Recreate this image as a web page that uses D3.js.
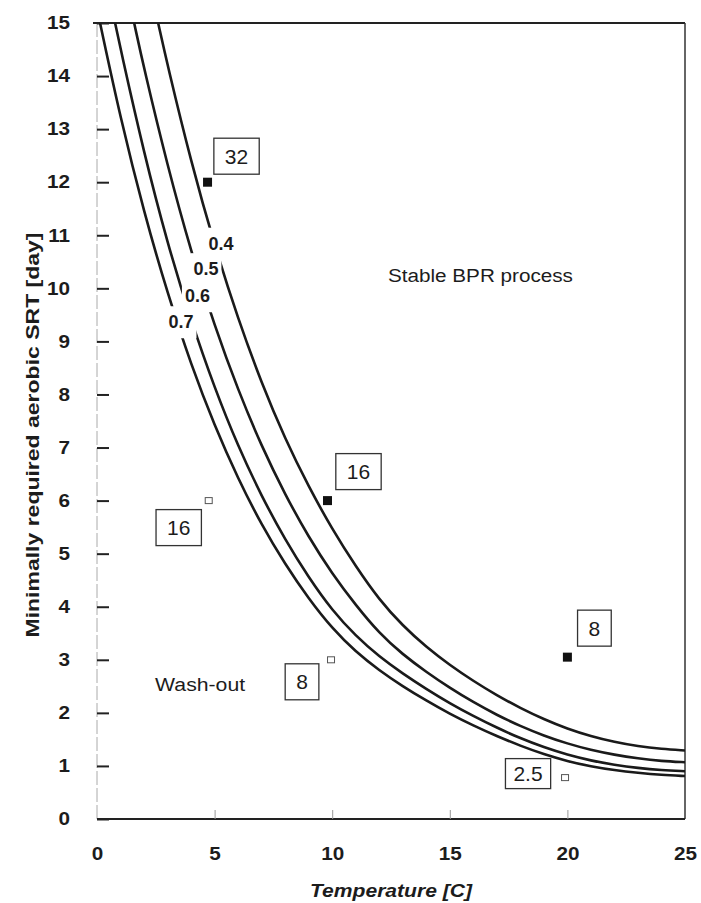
<!DOCTYPE html>
<html lang="en">
<head>
<meta charset="utf-8">
<title>Minimally required aerobic SRT vs temperature</title>
<script src="https://cdn.jsdelivr.net/npm/d3@7"></script>
<style>
body { margin: 0; background: #fff; }
svg text { font-family: "Liberation Sans", Arial, sans-serif; fill: #1c1c1c; }
.axis .domain { display: none; }
.yaxis .tick line { stroke: #222; stroke-width: 2; }
.xaxis .tick line { stroke: #999; stroke-width: 1; }
.axis text { font-size: 18px; font-weight: bold; }
</style>
</head>
<body>
<script>
// curve names (aerobic fraction) and the read-off points of each curve
var curveNames = ["0.4", "0.5", "0.6", "0.7"];

var temp04 = [2.6, 3, 4, 5, 6, 7, 8, 9, 10, 11, 12, 13, 14, 15, 16, 17, 18, 19, 20, 21, 22, 23, 24, 25];
var srt04 = [15, 14.2, 12.38, 10.8, 9.42, 8.21, 7.16, 6.26, 5.46, 4.76, 4.13, 3.64, 3.24, 2.9, 2.6, 2.33, 2.09, 1.88, 1.7, 1.56, 1.45, 1.37, 1.32, 1.29];

var temp05 = [1.58, 2, 3, 4, 5, 6, 7, 8, 9, 10, 11, 12, 13, 14, 15, 16, 17, 18, 19, 20, 21, 22, 23, 24, 25];
var srt05 = [15, 14.14, 12.3, 10.69, 9.29, 8.08, 7.02, 6.11, 5.31, 4.62, 4.03, 3.5, 3.1, 2.77, 2.47, 2.2, 1.96, 1.75, 1.57, 1.42, 1.3, 1.21, 1.14, 1.09, 1.07];

var temp06 = [0.77, 1, 2, 3, 4, 5, 6, 7, 8, 9, 10, 11, 12, 13, 14, 15, 16, 17, 18, 19, 20, 21, 22, 23, 24, 25];
var srt06 = [15, 14.51, 12.54, 10.84, 9.39, 8.12, 7.02, 6.08, 5.26, 4.55, 3.93, 3.45, 3.06, 2.74, 2.45, 2.18, 1.94, 1.72, 1.52, 1.35, 1.21, 1.1, 1.02, 0.96, 0.92, 0.9];

var temp07 = [0.13, 1, 2, 3, 4, 5, 6, 7, 8, 9, 10, 11, 12, 13, 14, 15, 16, 17, 18, 19, 20, 21, 22, 23, 24, 25];
var srt07 = [15, 13.2, 11.43, 9.9, 8.56, 7.41, 6.41, 5.54, 4.8, 4.15, 3.59, 3.15, 2.8, 2.5, 2.23, 1.98, 1.76, 1.56, 1.38, 1.22, 1.09, 0.99, 0.92, 0.87, 0.83, 0.81];

// where the curve name sits on the chart (temperature, SRT)
var nameTemp = [5.27, 4.63, 4.27, 3.57];
var nameSrt = [10.85, 10.37, 9.86, 9.37];

// measured points
var pointTemp = [4.7, 9.8, 20, 4.75, 9.95, 19.9];
var pointSrt = [12, 6, 3.05, 6, 3, 0.78];
var pointFilled = [true, true, true, false, false, false];
var pointLabels = ["32", "16", "8", "16", "8", "2.5"];

// tick labels
var xTickValues = [0, 5, 10, 15, 20, 25];
var yTickValues = [0, 1, 2, 3, 4, 5, 6, 7, 8, 9, 10, 11, 12, 13, 14, 15];

// label box offsets from each point (pixels)
var boxOffsets = [[29, -26], [31, -29], [27, -29], [-30, 27], [-29, 22], [-37, -4]];

var width = 701, height = 903;
var stretch = 1.15;   // the printed digits are a little wider than Arial

var svg = d3.select("body").append("svg")
    .attr("width", width)
    .attr("height", height)
    .style("display", "block");

var x = d3.scaleLinear().domain([0, 25]).range([97, 685]);
var y = d3.scaleLinear().domain([0, 15]).range([819, 23]);

// clip for the curves
svg.append("clipPath").attr("id", "plot")
    .append("rect")
    .attr("x", x(0)).attr("y", y(15))
    .attr("width", x(25) - x(0)).attr("height", y(0) - y(15));

// frame
svg.append("line")   // left (faint)
    .attr("x1", x(0)).attr("x2", x(0)).attr("y1", y(15)).attr("y2", y(0))
    .attr("stroke", "#aaa").attr("stroke-width", 1).attr("stroke-dasharray", "14,3");
svg.append("line")   // top
    .attr("x1", x(0) - 4).attr("x2", x(25)).attr("y1", y(15)).attr("y2", y(15))
    .attr("stroke", "#222").attr("stroke-width", 2);
svg.append("line")   // right
    .attr("x1", x(25)).attr("x2", x(25)).attr("y1", y(15)).attr("y2", y(0))
    .attr("stroke", "#333").attr("stroke-width", 1.5);
svg.append("line")   // bottom
    .attr("x1", x(0)).attr("x2", x(25)).attr("y1", y(0)).attr("y2", y(0))
    .attr("stroke", "#222").attr("stroke-width", 2);

// axes
var yAxis = d3.axisLeft(y).tickValues(yTickValues).tickSize(-12).tickPadding(27);
svg.append("g").attr("class", "axis yaxis")
    .attr("transform", "translate(" + x(0) + ",0)")
    .call(yAxis)
    .selectAll("text")
    .attr("x", -27 / stretch)
    .attr("transform", "scale(" + stretch + ",1)");

var xAxis = d3.axisBottom(x).tickValues(xTickValues).tickSize(-9).tickPadding(28);
svg.append("g").attr("class", "axis xaxis")
    .attr("transform", "translate(0," + y(0) + ")")
    .call(xAxis)
    .selectAll("text")
    .attr("transform", "scale(" + stretch + ",1)");
svg.selectAll(".xaxis .tick line").filter(function(d) { return d === 0 || d === 25; }).remove();

// axis titles
svg.append("text")
    .attr("transform", "translate(39," + ((y(15) + y(0)) / 2 + 14) + ") rotate(-90)")
    .attr("text-anchor", "middle")
    .attr("font-size", 18).attr("font-weight", "bold")
    .attr("textLength", 405).attr("lengthAdjust", "spacingAndGlyphs")
    .text("Minimally required aerobic SRT [day]");

svg.append("text")
    .attr("x", 391).attr("y", 897)
    .attr("text-anchor", "middle")
    .attr("font-size", 18).attr("font-weight", "bold").attr("font-style", "italic")
    .attr("textLength", 162).attr("lengthAdjust", "spacingAndGlyphs")
    .text("Temperature [C]");

// curves
var curveTemps = [temp04, temp05, temp06, temp07];
var curveSrts = [srt04, srt05, srt06, srt07];
var curves = curveNames.map(function(name, i) {
    return { name: name, points: curveTemps[i].map(function(t, j) { return [t, curveSrts[i][j]]; }) };
});

// basis spline smooths out the small reading errors
var line = d3.line()
    .x(function(d) { return x(d[0]); })
    .y(function(d) { return y(d[1]); })
    .curve(d3.curveBasis);

svg.append("g").attr("clip-path", "url(#plot)")
    .selectAll("path")
    .data(curves)
    .enter()
    .append("path")
    .attr("d", function(d) { return line(d.points); })
    .attr("fill", "none")
    .attr("stroke", "#1a1a1a")
    .attr("stroke-width", 2.6);

// curve names, on a white patch that cuts the lines
var names = svg.append("g").selectAll("g")
    .data(curveNames)
    .enter()
    .append("g");
names.append("rect").attr("fill", "#fff");
names.append("text")
    .attr("x", function(d, i) { return x(nameTemp[i]); })
    .attr("y", function(d, i) { return y(nameSrt[i]); })
    .attr("dy", "0.36em")
    .attr("text-anchor", "middle")
    .attr("font-size", 18).attr("font-weight", "bold")
    .text(function(d) { return d; });
names.each(function() {
    var g = d3.select(this);
    var b = g.select("text").node().getBBox();
    g.select("rect")
        .attr("x", b.x - 3).attr("y", b.y - 6)
        .attr("width", b.width + 6).attr("height", b.height + 12);
});

// region notes
svg.append("text")
    .attr("x", x(12.37)).attr("y", y(10.12))
    .attr("font-size", 18)
    .attr("textLength", 185).attr("lengthAdjust", "spacingAndGlyphs")
    .text("Stable BPR process");

svg.append("text")
    .attr("x", x(2.47)).attr("y", y(2.41))
    .attr("font-size", 18)
    .attr("textLength", 90).attr("lengthAdjust", "spacingAndGlyphs")
    .text("Wash-out");

// measured points
var points = pointTemp.map(function(t, i) {
    return { t: t, srt: pointSrt[i], filled: pointFilled[i], label: pointLabels[i], off: boxOffsets[i] };
});

svg.append("g").selectAll("rect")
    .data(points)
    .enter()
    .append("rect")
    .attr("x", function(d) { return x(d.t) - (d.filled ? 4.5 : 3.5); })
    .attr("y", function(d) { return y(d.srt) - (d.filled ? 4.5 : 3); })
    .attr("width", function(d) { return d.filled ? 9 : 7; })
    .attr("height", function(d) { return d.filled ? 9 : 6; })
    .attr("fill", function(d) { return d.filled ? "#111" : "#fff"; })
    .attr("stroke", function(d) { return d.filled ? "none" : "#555"; })
    .attr("stroke-width", 1);

var boxes = svg.append("g").selectAll("g")
    .data(points)
    .enter()
    .append("g");
boxes.append("rect")
    .attr("fill", "#fff").attr("stroke", "#333").attr("stroke-width", 1.3);
boxes.append("text")
    .attr("x", function(d) { return x(d.t) + d.off[0]; })
    .attr("y", function(d) { return y(d.srt) + d.off[1]; })
    .attr("dy", "0.36em")
    .attr("text-anchor", "middle")
    .attr("font-size", 21)
    .text(function(d) { return d.label; });
boxes.each(function(d) {
    var g = d3.select(this);
    var b = g.select("text").node().getBBox();
    var padX = d.label.length > 2 ? 8 : 11;
    var h = d.label.length > 2 ? 30 : 36;
    var cy = y(d.srt) + d.off[1];
    g.select("rect")
        .attr("x", b.x - padX).attr("y", cy - h / 2)
        .attr("width", b.width + 2 * padX).attr("height", h);
});
</script>
</body>
</html>
